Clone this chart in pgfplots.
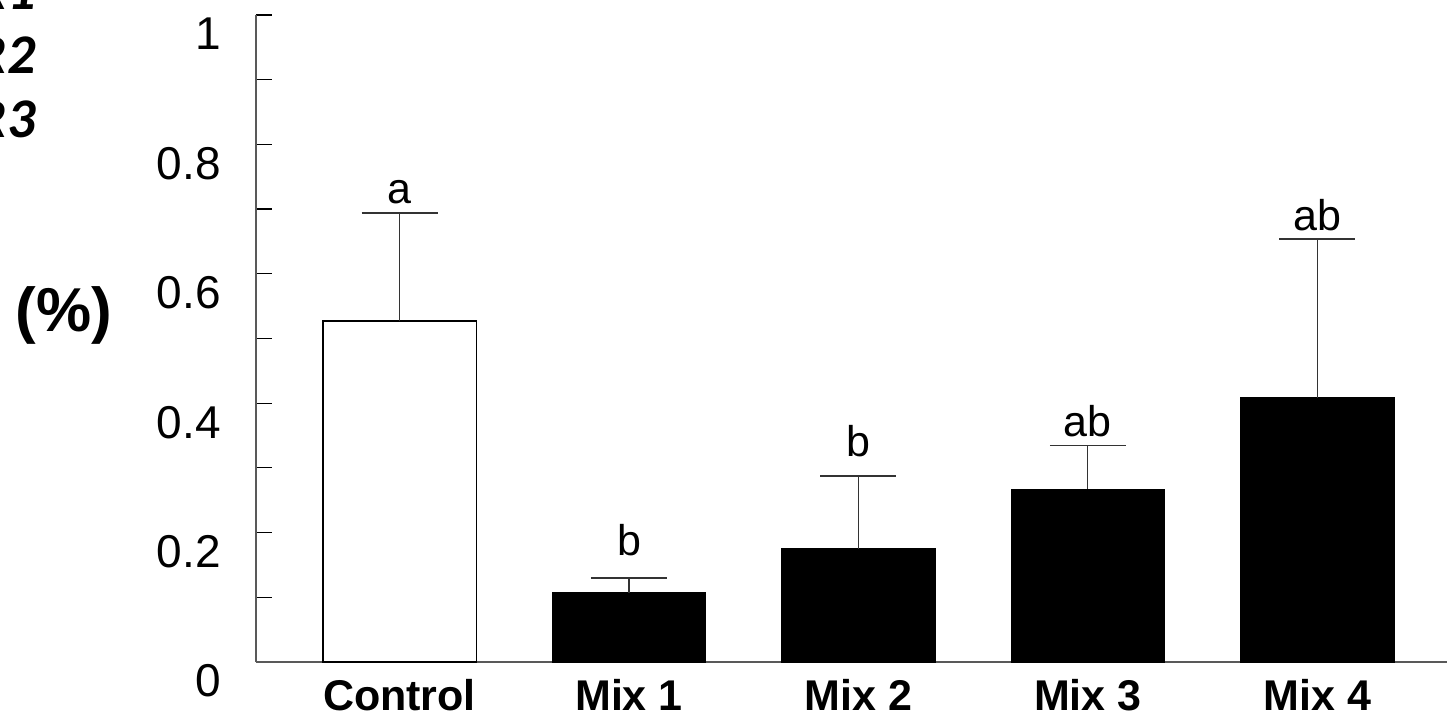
\documentclass[border=0pt]{standalone}
\usepackage{fontspec}
\setmainfont{Liberation Sans}
\newfontfamily\carlito{Carlito}
\usepackage{pgfplots}
\pgfplotsset{compat=1.18}
\begin{document}
\begin{tikzpicture}
\begin{axis}[
  at={(0,0)}, anchor=south west,
  scale only axis, width=595.5bp, height=323.5bp,
  xmin=-0.6254, xmax=4.5652, ymin=0, ymax=1,
  axis x line=bottom, axis y line=left,
  axis line style={-, draw=black!65, line width=1bp},
  xtick={0,1,2,3,4}, xticklabels={Control,Mix 1,Mix 2,Mix 3,Mix 4},
  x tick style={draw=none},
  xticklabel style={font=\fontsize{21.5bp}{25bp}\selectfont\bfseries, anchor=north, inner sep=0pt, yshift=-8.5bp},
  ytick={0,0.2,0.4,0.6,0.8,1}, minor ytick={0.1,0.3,0.5,0.7,0.9},
  tick align=inside,
  major tick length=8bp, minor tick length=8bp,
  y tick style={draw=black, line width=0.6bp},
  yticklabel style={font=\fontsize{23bp}{27bp}\selectfont, anchor=east, inner sep=0pt, xshift=-17.5bp, yshift=-9.5bp},
  /pgf/number format/assume math mode=true,
  clip=false,
]
\addplot[ybar, bar width=76.6bp, bar shift=0pt, fill=white, draw=black, line width=0.6bp,
  error bars/.cd, y dir=plus, y explicit,
  error mark options={rotate=90, mark size=19bp, line width=0.7bp, draw=black!80},
  error bar style={line width=0.6bp, draw=black!80}]
  coordinates {(0,0.527) +- (0,0.167)};
\addplot[ybar, bar width=76.6bp, bar shift=0pt, fill=black, draw=black, line width=0.6bp,
  error bars/.cd, y dir=plus, y explicit,
  error mark options={rotate=90, mark size=19bp, line width=0.7bp, draw=black!80},
  error bar style={line width=0.6bp, draw=black!80}]
  coordinates {(1,0.107) +- (0,0.023) (2,0.175) +- (0,0.1125) (3,0.267) +- (0,0.068) (4,0.408) +- (0,0.246)};
\node[font=\fontsize{21.5bp}{25bp}\selectfont, anchor=base, inner sep=0pt] at (axis cs:0,0.708) {a};
\node[font=\fontsize{21.5bp}{25bp}\selectfont, anchor=base, inner sep=0pt] at (axis cs:1,0.164) {b};
\node[font=\fontsize{21.5bp}{25bp}\selectfont, anchor=base, inner sep=0pt] at (axis cs:2,0.317) {b};
\node[font=\fontsize{21.5bp}{25bp}\selectfont, anchor=base, inner sep=0pt] at (axis cs:3,0.349) {ab};
\node[font=\fontsize{21.5bp}{25bp}\selectfont, anchor=base, inner sep=0pt] at (axis cs:4,0.667) {ab};
\end{axis}
\node[font=\fontsize{31bp}{36bp}\selectfont\bfseries, inner sep=0pt] at (-96bp,173.5bp) {(\%)};
\node[font=\fontsize{28bp}{32bp}\selectfont\carlito\bfseries\itshape, inner sep=0pt, anchor=east] at (-110bp,335.25bp) {R1};
\node[font=\fontsize{28bp}{32bp}\selectfont\carlito\bfseries\itshape, inner sep=0pt, anchor=east] at (-110bp,303.25bp) {R2};
\node[font=\fontsize{28bp}{32bp}\selectfont\carlito\bfseries\itshape, inner sep=0pt, anchor=east] at (-110bp,271.25bp) {R3};
\pgfresetboundingbox
\useasboundingbox (-128bp,-28bp) rectangle (595.5bp,331bp);
\end{tikzpicture}
\end{document}
